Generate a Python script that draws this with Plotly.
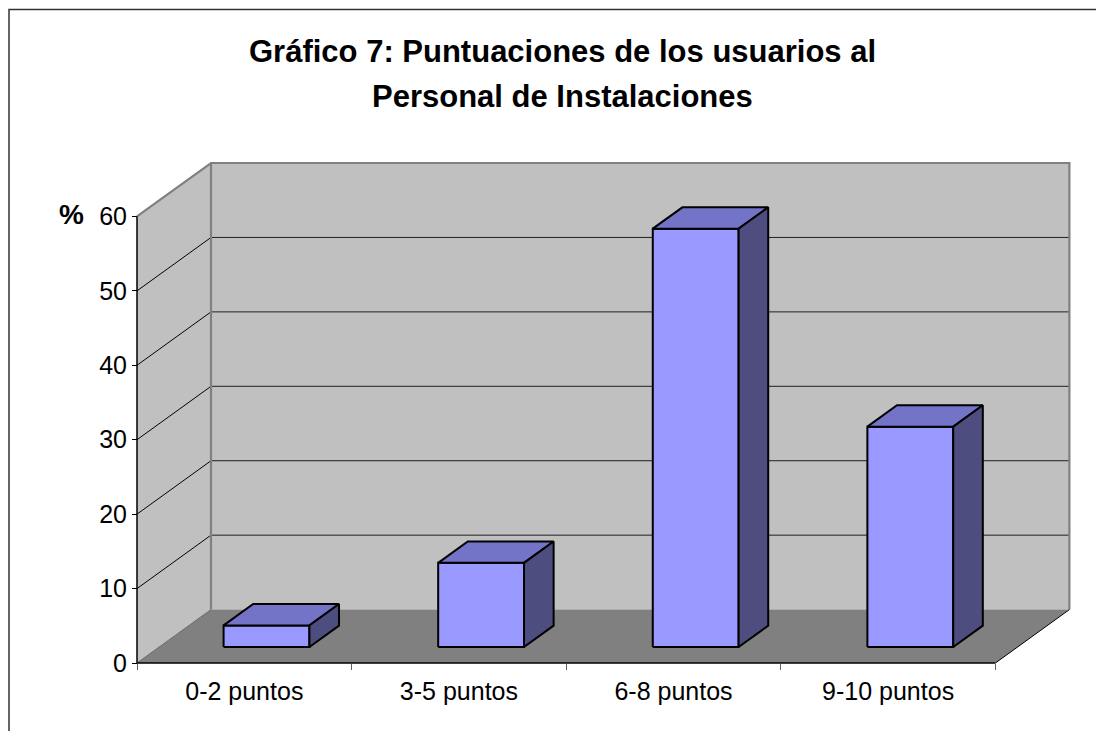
import plotly.graph_objects as go

# ---- data ----
categories = ["0-2 puntos", "3-5 puntos", "6-8 puntos", "9-10 puntos"]
values = [2.9, 11.3, 56.2, 29.6]
y_ticks = [0, 10, 20, 30, 40, 50, 60]
title_lines = ["Gráfico 7: Puntuaciones de los usuarios al", "Personal de Instalaciones"]

# ---- geometry (3D oblique projection in data units) ----
OFF = 8                      # page body margin
W, H = 1104 - OFF, 731 - OFF
# plot area in reference (page) pixels
PL, PR, PT, PB = 133, 1072, 159, 667
ML, MR, MT, MB = PL - OFF, W - (PR - OFF), PT - OFF, H - (PB - OFF)
PW, PH = W - ML - MR, H - MT - MB
UX = 214.6          # px per category
UY = 7.443          # px per value unit
X0 = 137            # page px of x=0
Y0 = 663            # page px of y=0
DX = 74 / UX        # depth offset in x units
DY = 53.4 / UY      # depth offset in y units
YMAX = 60
n = len(categories)

xr = [-(X0 - PL) / UX, (PR - X0) / UX]
yr = [-(PB - Y0) / UY, (Y0 - PT) / UY]

WALL = "#C0C0C0"
FLOOR = "#808080"
EDGE = "#808080"
FRONT = "#9999FF"
TOP = "#7373C8"
SIDE = "#4D4D80"

fig = go.Figure()


def poly(xs, ys, fill, line_color=None, lw=0):
    fig.add_trace(go.Scatter(
        x=xs + [xs[0]], y=ys + [ys[0]], mode="lines", fill="toself",
        fillcolor=fill, line=dict(color=line_color or fill, width=lw),
        hoverinfo="skip", showlegend=False))


def line(xs, ys, color, lw):
    fig.add_trace(go.Scatter(
        x=xs, y=ys, mode="lines", line=dict(color=color, width=lw),
        hoverinfo="skip", showlegend=False, connectgaps=False))


# walls and floor
poly([DX, n + DX, n + DX, DX], [DY, DY, YMAX + DY, YMAX + DY], WALL)
poly([0, DX, DX, 0], [0, DY, YMAX + DY, YMAX], WALL)
poly([0, n, n + DX, DX], [0, 0, DY, DY], FLOOR)

# gridlines on back wall and left wall
gx, gy = [], []
for t in y_ticks[1:-1]:
    gx += [DX, n + DX, None]
    gy += [t + DY, t + DY, None]
line(gx, gy, "#202020", 1)
lx, ly = [], []
for t in y_ticks[1:-1]:
    lx += [0, DX, None]
    ly += [t, t + DY, None]
line(lx, ly, "#000000", 1)

# wall edges (gray)
line([0, DX, n + DX, n + DX], [YMAX, YMAX + DY, YMAX + DY, DY], EDGE, 2.2)
line([DX, DX], [DY, YMAX + DY], EDGE, 2.2)
line([0, DX], [0, DY], "#6a6a6a", 1)
# floor right edge
line([n, n + DX], [0, DY], "#000000", 1)
# front edges (axes)
line([0, n], [0, 0], "#000000", 1.5)
line([0, 0], [0, YMAX], "#000000", 1.5)

# bars
f, b = 0.3, 0.7
for i, v in enumerate(values):
    xl, xrr = i + 0.3, i + 0.7
    fx, fy = f * DX, f * DY
    bx, by = b * DX, b * DY
    poly([xl + fx, xrr + fx, xrr + fx, xl + fx], [fy, fy, fy + v, fy + v], FRONT, "#000000", 2)
    poly([xl + fx, xrr + fx, xrr + bx, xl + bx], [fy + v, fy + v, by + v, by + v], TOP, "#000000", 2)
    poly([xrr + fx, xrr + bx, xrr + bx, xrr + fx], [fy, by, by + v, fy + v], SIDE, "#000000", 2)

FONT = "Arial, Liberation Sans, sans-serif"


def px_to_paper(px, py):
    # px, py given in reference page pixels
    return (px - PL) / PW, (PB - py) / PH


anns = []
tx, ty1 = px_to_paper(562, 52)
_, ty2 = px_to_paper(562, 96.5)
for t, yy in zip(title_lines, [ty1, ty2]):
    anns.append(dict(text="<b>%s</b>" % t, x=tx, y=yy, xref="paper", yref="paper",
                     xanchor="center", yanchor="middle", showarrow=False,
                     font=dict(family=FONT, size=31, color="#000000")))
px_, py_ = px_to_paper(71, 214)
anns.append(dict(text="<b>%</b>", x=px_, y=py_, xref="paper", yref="paper",
                 xanchor="center", yanchor="middle", showarrow=False,
                 font=dict(family=FONT, size=28, color="#000000")))

# chart-area frame
fx0, fy0 = px_to_paper(9, 9.5)
fx1, fy1 = px_to_paper(1120, 750)

fig.update_layout(
    width=W, height=H,
    margin=dict(l=ML, r=MR, t=MT, b=MB, autoexpand=False),
    paper_bgcolor="white", plot_bgcolor="white",
    showlegend=False,
    annotations=anns,
    shapes=[dict(type="rect", xref="paper", yref="paper", x0=fx0, y0=fy1, x1=fx1, y1=fy0,
                 line=dict(color="#333333", width=1.5), fillcolor="rgba(0,0,0,0)", layer="above")],
    xaxis=dict(range=xr, showgrid=False, zeroline=False, showline=False,
               anchor="free", position=(PB - Y0) / PH,
               tickmode="array", tickvals=[i + 0.5 for i in range(n)], ticktext=categories,
               ticks="", ticklabelstandoff=11,
               tickfont=dict(family=FONT, size=25, color="#000000"),
               minor=dict(tickmode="array", tickvals=list(range(n + 1)), ticks="outside",
                          ticklen=6, tickcolor="#606060", tickwidth=1.2),
               fixedrange=True),
    yaxis=dict(range=yr, showgrid=False, zeroline=False, showline=False,
               anchor="free", position=(X0 - PL) / PW,
               tickmode="array", tickvals=y_ticks, ticks="outside", ticklen=5,
               tickcolor="#000000", tickwidth=1.2,
               tickfont=dict(family=FONT, size=25, color="#000000"),
               fixedrange=True),
)

fig.write_html("out.html")
